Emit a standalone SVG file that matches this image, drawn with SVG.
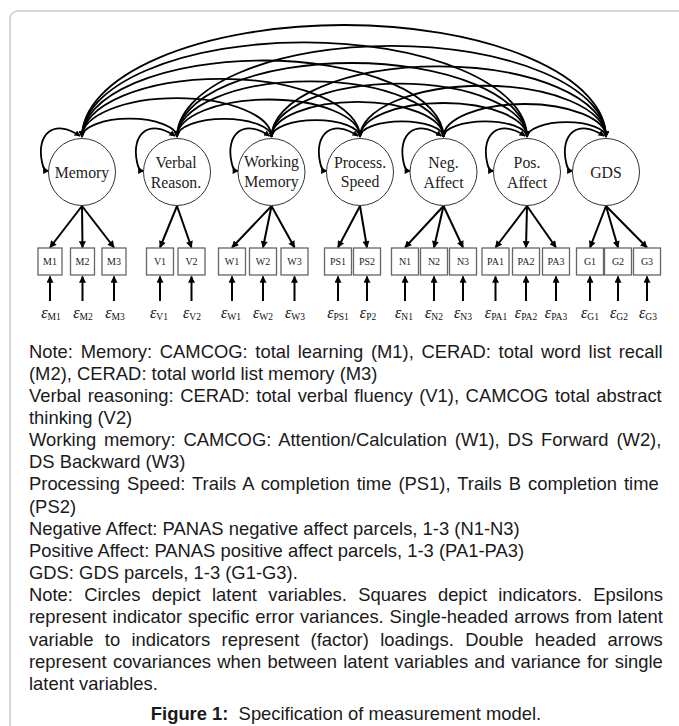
<svg xmlns="http://www.w3.org/2000/svg" width="679" height="726" viewBox="0 0 679 726">
<defs>
<marker id="ah" viewBox="0 0 10 10" refX="9" refY="5" markerWidth="7" markerHeight="6" markerUnits="userSpaceOnUse" orient="auto-start-reverse"><path d="M0,0 L10,5 L0,10 z" fill="#000"/></marker>
<marker id="al" viewBox="0 0 10 10" refX="9" refY="5" markerWidth="8" markerHeight="7" markerUnits="userSpaceOnUse" orient="auto"><path d="M0,0 L10,5 L0,10 z" fill="#000"/></marker>
<style>
.cov{fill:none;stroke:#000;stroke-width:1.8}
.loop{fill:none;stroke:#000;stroke-width:1.8}
.ld{stroke:#000;stroke-width:2}
.lat{fill:#fff;stroke:#333;stroke-width:1}
.ind{fill:#fff;stroke:#666;stroke-width:1.3}
.lt{font-family:"Liberation Serif","Times New Roman",serif;font-size:15.8px;fill:#222;text-anchor:middle}
.it{font-family:"Liberation Serif","Times New Roman",serif;font-size:10px;fill:#222;text-anchor:middle}
.ep{font-family:"Liberation Serif","Times New Roman",serif;font-size:16px;font-style:italic;fill:#111;text-anchor:middle}
.sub{font-size:9.5px;font-style:normal}
.body{font-family:"Liberation Sans",Arial,sans-serif;font-size:18.4px;fill:#1a1a1a}
</style>
</defs>
<rect x="10" y="11" width="720" height="760" rx="8" fill="none" stroke="#cccccc" stroke-width="1.5"/>

<g id="connectors">
<g id="covariances" marker-start="url(#ah)" marker-end="url(#ah)">
<path class="cov" d="M82 137 A47.5 18.3 0 0 1 177 137"/>
<path class="cov" d="M82 137 A94.75 38.9 0 0 1 271.5 137"/>
<path class="cov" d="M82 137 A139 58.2 0 0 1 360 137"/>
<path class="cov" d="M82 137 A180.75 76.5 0 0 1 443.5 137"/>
<path class="cov" d="M82 137 A222.5 94.7 0 0 1 527 137"/>
<path class="cov" d="M82 137 A262 112 0 0 1 606 137"/>
<path class="cov" d="M177 137 A47.25 18.1 0 0 1 271.5 137"/>
<path class="cov" d="M177 137 A91.5 37.5 0 0 1 360 137"/>
<path class="cov" d="M177 137 A133.25 55.7 0 0 1 443.5 137"/>
<path class="cov" d="M177 137 A175 74 0 0 1 527 137"/>
<path class="cov" d="M177 137 A214.5 91.2 0 0 1 606 137"/>
<path class="cov" d="M271.5 137 A44.25 16.8 0 0 1 360 137"/>
<path class="cov" d="M271.5 137 A86 35.1 0 0 1 443.5 137"/>
<path class="cov" d="M271.5 137 A127.75 53.3 0 0 1 527 137"/>
<path class="cov" d="M271.5 137 A167.25 70.6 0 0 1 606 137"/>
<path class="cov" d="M360 137 A41.75 15.7 0 0 1 443.5 137"/>
<path class="cov" d="M360 137 A83.5 34 0 0 1 527 137"/>
<path class="cov" d="M360 137 A123 51.3 0 0 1 606 137"/>
<path class="cov" d="M443.5 137 A41.75 15.7 0 0 1 527 137"/>
<path class="cov" d="M443.5 137 A81.25 33 0 0 1 606 137"/>
<path class="cov" d="M527 137 A39.5 14.8 0 0 1 606 137"/>
</g>
<g id="variances" marker-start="url(#ah)" marker-end="url(#ah)">
<path class="loop" d="M80 136 C54 118 36 134 42 162 Q43.5 171 48.5 171"/>
<path class="loop" d="M175 136 C149 118 131 134 137 162 Q138.5 171 143.5 171"/>
<path class="loop" d="M269.5 136 C243.5 118 225.5 134 231.5 162 Q233 171 238 171"/>
<path class="loop" d="M358 136 C332 118 314 134 320 162 Q321.5 171 326.5 171"/>
<path class="loop" d="M441.5 136 C415.5 118 397.5 134 403.5 162 Q405 171 410 171"/>
<path class="loop" d="M525 136 C499 118 481 134 487 162 Q488.5 171 493.5 171"/>
<path class="loop" d="M604 136 C578 118 560 134 566 162 Q567.5 171 572.5 171"/>
</g>
<g id="loadings" marker-end="url(#al)">
<line class="ld" x1="82" y1="206" x2="50" y2="247.5"/>
<line class="ld" x1="82" y1="206" x2="82.5" y2="247.5"/>
<line class="ld" x1="82" y1="206" x2="114" y2="247.5"/>
<line class="ld" x1="177" y1="206" x2="160" y2="247.5"/>
<line class="ld" x1="177" y1="206" x2="191.5" y2="247.5"/>
<line class="ld" x1="271.5" y1="206" x2="232" y2="247.5"/>
<line class="ld" x1="271.5" y1="206" x2="263" y2="247.5"/>
<line class="ld" x1="271.5" y1="206" x2="294.5" y2="247.5"/>
<line class="ld" x1="360" y1="206" x2="338" y2="247.5"/>
<line class="ld" x1="360" y1="206" x2="367" y2="247.5"/>
<line class="ld" x1="443.5" y1="206" x2="405" y2="247.5"/>
<line class="ld" x1="443.5" y1="206" x2="434" y2="247.5"/>
<line class="ld" x1="443.5" y1="206" x2="463" y2="247.5"/>
<line class="ld" x1="527" y1="206" x2="495.5" y2="247.5"/>
<line class="ld" x1="527" y1="206" x2="526" y2="247.5"/>
<line class="ld" x1="527" y1="206" x2="556" y2="247.5"/>
<line class="ld" x1="606" y1="206" x2="590" y2="247.5"/>
<line class="ld" x1="606" y1="206" x2="618" y2="247.5"/>
<line class="ld" x1="606" y1="206" x2="647" y2="247.5"/>
</g>
<g id="errors" marker-end="url(#al)">
<line class="ld" x1="50" y1="301" x2="50" y2="276.5"/>
<line class="ld" x1="82.5" y1="301" x2="82.5" y2="276.5"/>
<line class="ld" x1="114" y1="301" x2="114" y2="276.5"/>
<line class="ld" x1="160" y1="301" x2="160" y2="276.5"/>
<line class="ld" x1="191.5" y1="301" x2="191.5" y2="276.5"/>
<line class="ld" x1="232" y1="301" x2="232" y2="276.5"/>
<line class="ld" x1="263" y1="301" x2="263" y2="276.5"/>
<line class="ld" x1="294.5" y1="301" x2="294.5" y2="276.5"/>
<line class="ld" x1="338" y1="301" x2="338" y2="276.5"/>
<line class="ld" x1="367" y1="301" x2="367" y2="276.5"/>
<line class="ld" x1="405" y1="301" x2="405" y2="276.5"/>
<line class="ld" x1="434" y1="301" x2="434" y2="276.5"/>
<line class="ld" x1="463" y1="301" x2="463" y2="276.5"/>
<line class="ld" x1="495.5" y1="301" x2="495.5" y2="276.5"/>
<line class="ld" x1="526" y1="301" x2="526" y2="276.5"/>
<line class="ld" x1="556" y1="301" x2="556" y2="276.5"/>
<line class="ld" x1="590" y1="301" x2="590" y2="276.5"/>
<line class="ld" x1="618" y1="301" x2="618" y2="276.5"/>
<line class="ld" x1="647" y1="301" x2="647" y2="276.5"/>
</g>
</g>

<g id="memory"><circle class="lat" cx="82" cy="172" r="33.5"/><text class="lt" x="82" y="177.5">Memory</text></g>
<g id="verbal"><circle class="lat" cx="177" cy="172" r="33.5"/><text class="lt" x="176" y="168">Verbal</text><text class="lt" x="176" y="187.5">Reason.</text></g>
<g id="working"><circle class="lat" cx="271.5" cy="172" r="33.5"/><text class="lt" x="271.5" y="167">Working</text><text class="lt" x="271.5" y="187">Memory</text></g>
<g id="process"><circle class="lat" cx="360" cy="172" r="33.5"/><text class="lt" x="360" y="168">Process.</text><text class="lt" x="360" y="187">Speed</text></g>
<g id="neg"><circle class="lat" cx="443.5" cy="172" r="33.5"/><text class="lt" x="443.5" y="168">Neg.</text><text class="lt" x="443.5" y="188">Affect</text></g>
<g id="pos"><circle class="lat" cx="527" cy="172" r="33.5"/><text class="lt" x="527" y="168">Pos.</text><text class="lt" x="527" y="188">Affect</text></g>
<g id="gds"><circle class="lat" cx="606" cy="172" r="33.5"/><text class="lt" x="606" y="178">GDS</text></g>

<g id="M1"><rect class="ind" x="38" y="248" width="24" height="27"/><text class="it" x="50" y="265">M1</text></g>
<g id="M2"><rect class="ind" x="70.5" y="248" width="24" height="27"/><text class="it" x="82.5" y="265">M2</text></g>
<g id="M3"><rect class="ind" x="102" y="248" width="24" height="27"/><text class="it" x="114" y="265">M3</text></g>
<g id="V1"><rect class="ind" x="146.5" y="248" width="27" height="27"/><text class="it" x="160" y="265">V1</text></g>
<g id="V2"><rect class="ind" x="178" y="248" width="27" height="27"/><text class="it" x="191.5" y="265">V2</text></g>
<g id="W1"><rect class="ind" x="218.5" y="248" width="27" height="27"/><text class="it" x="232" y="265">W1</text></g>
<g id="W2"><rect class="ind" x="249.5" y="248" width="27" height="27"/><text class="it" x="263" y="265">W2</text></g>
<g id="W3"><rect class="ind" x="281" y="248" width="27" height="27"/><text class="it" x="294.5" y="265">W3</text></g>
<g id="PS1"><rect class="ind" x="324.5" y="248" width="27" height="27"/><text class="it" x="338" y="265">PS1</text></g>
<g id="PS2"><rect class="ind" x="353.5" y="248" width="27" height="27"/><text class="it" x="367" y="265">PS2</text></g>
<g id="N1"><rect class="ind" x="391.5" y="248" width="27" height="27"/><text class="it" x="405" y="265">N1</text></g>
<g id="N2"><rect class="ind" x="420.5" y="248" width="27" height="27"/><text class="it" x="434" y="265">N2</text></g>
<g id="N3"><rect class="ind" x="449.5" y="248" width="27" height="27"/><text class="it" x="463" y="265">N3</text></g>
<g id="PA1"><rect class="ind" x="482" y="248" width="27" height="27"/><text class="it" x="495.5" y="265">PA1</text></g>
<g id="PA2"><rect class="ind" x="512.5" y="248" width="27" height="27"/><text class="it" x="526" y="265">PA2</text></g>
<g id="PA3"><rect class="ind" x="542.5" y="248" width="27" height="27"/><text class="it" x="556" y="265">PA3</text></g>
<g id="G1"><rect class="ind" x="576.5" y="248" width="27" height="27"/><text class="it" x="590" y="265">G1</text></g>
<g id="G2"><rect class="ind" x="604.5" y="248" width="27" height="27"/><text class="it" x="618" y="265">G2</text></g>
<g id="G3"><rect class="ind" x="633.5" y="248" width="27" height="27"/><text class="it" x="647" y="265">G3</text></g>

<g id="epsilons">
<text class="ep" x="51" y="318">ε<tspan class="sub" dy="2">M1</tspan></text>
<text class="ep" x="83" y="318">ε<tspan class="sub" dy="2">M2</tspan></text>
<text class="ep" x="115" y="318">ε<tspan class="sub" dy="2">M3</tspan></text>
<text class="ep" x="159" y="318">ε<tspan class="sub" dy="2">V1</tspan></text>
<text class="ep" x="192" y="318">ε<tspan class="sub" dy="2">V2</tspan></text>
<text class="ep" x="231" y="318">ε<tspan class="sub" dy="2">W1</tspan></text>
<text class="ep" x="263" y="318">ε<tspan class="sub" dy="2">W2</tspan></text>
<text class="ep" x="295" y="318">ε<tspan class="sub" dy="2">W3</tspan></text>
<text class="ep" x="338" y="318">ε<tspan class="sub" dy="2">PS1</tspan></text>
<text class="ep" x="368" y="318">ε<tspan class="sub" dy="2">P2</tspan></text>
<text class="ep" x="404" y="318">ε<tspan class="sub" dy="2">N1</tspan></text>
<text class="ep" x="434" y="318">ε<tspan class="sub" dy="2">N2</tspan></text>
<text class="ep" x="463" y="318">ε<tspan class="sub" dy="2">N3</tspan></text>
<text class="ep" x="496" y="318">ε<tspan class="sub" dy="2">PA1</tspan></text>
<text class="ep" x="526" y="318">ε<tspan class="sub" dy="2">PA2</tspan></text>
<text class="ep" x="556" y="318">ε<tspan class="sub" dy="2">PA3</tspan></text>
<text class="ep" x="590" y="318">ε<tspan class="sub" dy="2">G1</tspan></text>
<text class="ep" x="619" y="318">ε<tspan class="sub" dy="2">G2</tspan></text>
<text class="ep" x="648" y="318">ε<tspan class="sub" dy="2">G3</tspan></text>
</g>

<g id="notes" class="body">
<text x="29" y="357.5" word-spacing="2.56">Note: Memory: CAMCOG: total learning (M1), CERAD: total word list recall</text>
<text x="29" y="379.7">(M2), CERAD: total world list memory (M3)</text>
<text x="29" y="401.8" word-spacing="1.48">Verbal reasoning: CERAD: total verbal fluency (V1), CAMCOG total abstract</text>
<text x="29" y="424">thinking (V2)</text>
<text x="29" y="446.1" word-spacing="2.79">Working memory: CAMCOG: Attention/Calculation (W1), DS Forward (W2),</text>
<text x="29" y="468.3">DS Backward (W3)</text>
<text x="29" y="490.4" word-spacing="1.95">Processing Speed: Trails A completion time (PS1), Trails B completion time</text>
<text x="29" y="512.6">(PS2)</text>
<text x="29" y="534.7">Negative Affect: PANAS negative affect parcels, 1-3 (N1-N3)</text>
<text x="29" y="556.9">Positive Affect: PANAS positive affect parcels, 1-3 (PA1-PA3)</text>
<text x="29" y="579">GDS: GDS parcels, 1-3 (G1-G3).</text>
<text x="29" y="601.2" word-spacing="6.14">Note: Circles depict latent variables. Squares depict indicators. Epsilons</text>
<text x="29" y="623.3" word-spacing="0.78">represent indicator specific error variances. Single-headed arrows from latent</text>
<text x="29" y="645.5" word-spacing="6.26">variable to indicators represent (factor) loadings. Double headed arrows</text>
<text x="29" y="667.6" word-spacing="1.13">represent covariances when between latent variables and variance for single</text>
<text x="29" y="689.8">latent variables.</text>
<text x="346" y="720" text-anchor="middle"><tspan font-weight="bold">Figure 1:</tspan> <tspan dx="5">Specification of measurement model.</tspan></text>
</g>
</svg>
